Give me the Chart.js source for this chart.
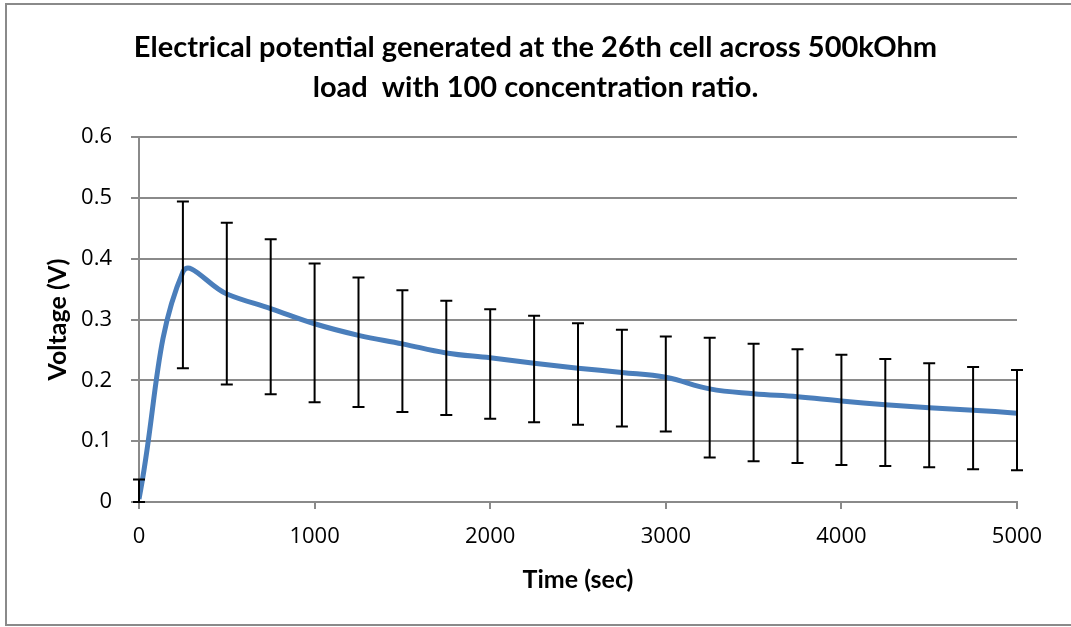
<!DOCTYPE html>
<html>
<head>
<meta charset="utf-8">
<script src="https://cdn.jsdelivr.net/npm/chart.js@4.4.1/dist/chart.umd.min.js"></script>
<style>
  html, body { margin: 0; padding: 0; background: #fff; overflow: hidden; }
  #frame {
    position: absolute; left: 5px; top: 3px;
    width: 1100px; height: 619px;
    border: 2px solid #8a8a8a;
  }
  #wrap { position: absolute; left: 0; top: 0; width: 1071px; height: 627px; }
</style>
</head>
<body>
<div id="frame"></div>
<div id="wrap"><canvas id="chart" width="1071" height="627"></canvas></div>
<script>
// Datos
const tiempos = [0, 250, 500, 750, 1000, 1250, 1500, 1750, 2000, 2250, 2500,
  2750, 3000, 3250, 3500, 3750, 4000, 4250, 4500, 4750, 5000];
const voltaje = [0.005, 0.378, 0.342, 0.318, 0.293, 0.274, 0.26, 0.245, 0.237, 0.228, 0.22,
  0.213, 0.205, 0.186, 0.178, 0.173, 0.166, 0.16, 0.155, 0.151, 0.146];
// extremos de las barras de error
const errorAlto = [0.037, 0.494, 0.459, 0.432, 0.392, 0.369, 0.348, 0.331, 0.317, 0.306, 0.294,
  0.283, 0.272, 0.27, 0.26, 0.251, 0.242, 0.235, 0.228, 0.222, 0.217];
const errorBajo = [0.0, 0.22, 0.193, 0.177, 0.164, 0.156, 0.148, 0.143, 0.137, 0.131, 0.127,
  0.124, 0.116, 0.073, 0.067, 0.064, 0.061, 0.059, 0.057, 0.054, 0.052];

const titulo = ["Electrical potential generated at the 26th cell across 500kOhm",
  "load  with 100 concentration ratio."];
const tituloX = "Time (sec)";
const tituloY = "Voltage (V)";

const gris = "#8a8a8a";
const azul = "#4a7ebb";

// Barras de error dibujadas con las escalas del gráfico
const barrasError = {
  id: "barrasError",
  afterDatasetsDraw(chart) {
    const { ctx, chartArea, scales } = chart;
    const cap = 6;
    ctx.save();
    // recorte solo en vertical, para que los topes de los extremos se vean enteros
    ctx.beginPath();
    ctx.rect(chartArea.left - cap - 2, chartArea.top - 1,
      chartArea.right - chartArea.left + 2 * cap + 4, chartArea.bottom - chartArea.top + 2);
    ctx.clip();
    ctx.strokeStyle = "#000";
    ctx.lineWidth = 2;
    tiempos.forEach((t, i) => {
      const x = scales.x.getPixelForValue(t);
      const yAlto = scales.y.getPixelForValue(errorAlto[i]);
      const yBajo = scales.y.getPixelForValue(errorBajo[i]);
      ctx.beginPath();
      ctx.moveTo(x, yAlto);
      ctx.lineTo(x, yBajo);
      ctx.moveTo(x - cap, yAlto);
      ctx.lineTo(x + cap, yAlto);
      ctx.moveTo(x - cap, yBajo);
      ctx.lineTo(x + cap, yBajo);
      ctx.stroke();
    });
    ctx.restore();
  }
};

const fuenteTicks = { family: "'Open Sans', sans-serif", size: 22 };
const fuenteEje = { family: "Lato, sans-serif", size: 25, weight: "bold" };

function dibujar() {
  new Chart(document.getElementById("chart"), {
    type: "line",
    data: {
      datasets: [{
        data: tiempos.map((t, i) => ({ x: t, y: voltaje[i] })),
        borderColor: azul,
        borderWidth: 5,
        pointRadius: 0,
        tension: 0.4,
        fill: false
      }]
    },
    options: {
      responsive: false,
      animation: false,
      layout: { padding: 0 },
      plugins: {
        legend: { display: false },
        tooltip: { enabled: false },
        title: {
          display: true,
          text: titulo,
          color: "#000",
          font: { family: "Lato, sans-serif", size: 29, weight: "bold", lineHeight: 40 / 29 },
          padding: { top: 28, bottom: 29 }
        }
      },
      scales: {
        x: {
          type: "linear",
          min: 0,
          max: 5000,
          ticks: {
            stepSize: 1000, color: "#000", font: fuenteTicks, padding: 15, maxRotation: 0,
            callback: (v) => String(v)
          },
          grid: { display: true, drawOnChartArea: false, color: gris, lineWidth: 2, tickLength: 7 },
          border: { color: gris, width: 2 },
          title: {
            display: true, text: tituloX, color: "#000", font: fuenteEje,
            padding: { top: 0, bottom: 32 }
          },
          afterFit(scale) { scale.height = 125; }
        },
        y: {
          min: 0,
          max: 0.6,
          ticks: { stepSize: 0.1, color: "#000", font: fuenteTicks, padding: 19 },
          grid: { color: gris, lineWidth: 2, tickLength: 8 },
          border: { color: gris, width: 2 },
          title: {
            display: true, text: tituloY, color: "#000", font: fuenteEje,
            padding: { top: 43, bottom: 0 }
          },
          afterFit(scale) { scale.width = 139; }
        },
        derecha: {
          type: "linear",
          position: "right",
          display: true,
          ticks: { display: false },
          grid: { display: false },
          border: { display: false },
          afterFit(scale) { scale.width = 54; }
        }
      }
    },
    plugins: [barrasError]
  });
}

Promise.all([
  document.fonts.load("22px 'Open Sans'"),
  document.fonts.load("bold 28px Lato")
]).then(dibujar, dibujar);
</script>
</body>
</html>
